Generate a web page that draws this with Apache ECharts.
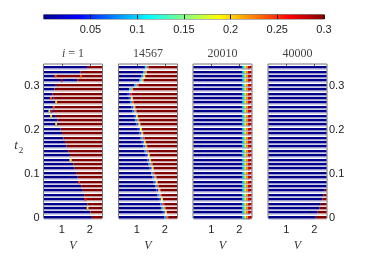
<!DOCTYPE html>
<html><head><meta charset="utf-8">
<script src="https://cdn.jsdelivr.net/npm/echarts@6/dist/echarts.min.js"></script>
<style>html,body{margin:0;padding:0;background:#fff}#c{width:374px;height:257px}</style>
</head><body><div id="c"></div>
<script>
// ---- data ----
const tRows = [0.00,0.01,0.02,0.03,0.04,0.05,0.06,0.07,0.08,0.09,0.10,0.11,0.12,0.13,0.14,0.15,0.16,0.17,0.18,0.19,0.20,0.21,0.22,0.23,0.24,0.25,0.26,0.27,0.28,0.29,0.30,0.31,0.32,0.33,0.34];
const panelTitles = ['i = 1','14567','20010','40000'];
const vTicks = [1, 2];
const tTicks = [0, 0.1, 0.2, 0.3];
const cbTicks = [0.05, 0.1, 0.15, 0.2, 0.25, 0.3];
const vRange = [0.35, 2.45];
const tRange = [0, 0.35];
const lowVal = 0.0, highVal = 0.3;

// panel 1 (i = 1): V where the red region starts, per row
const edges1 = [2.07,2.02,1.97,1.92,1.86,1.80,1.75,1.69,1.63,1.57,1.51,1.46,1.41,1.35,1.29,1.23,1.17,1.12,1.06,1.01,0.96,0.90,0.85,0.79,0.72,0.73,0.82,0.70,0.67,0.74,0.79,1.56,0.80,1.67,1.90];
// isolated coloured cells [t2, V, value]
const spots1 = [[0.02,1.92,0.2],[0.04,1.84,0.26],[0.08,1.62,0.25],[0.13,1.31,0.19],[0.21,0.80,0.2],[0.23,0.62,0.2],[0.24,0.56,0.16],[0.24,0.64,0.27],[0.25,0.71,0.24],[0.26,0.80,0.2],[0.27,0.62,0.24],[0.31,1.00,0.29],[0.32,0.78,0.24],[0.32,1.68,0.24]];

// panel 2 (14567)
const edges2 = [2.12,2.07,2.02,1.98,1.93,1.88,1.84,1.79,1.74,1.70,1.65,1.60,1.56,1.51,1.46,1.42,1.37,1.32,1.28,1.23,1.18,1.13,1.09,1.04,0.99,0.95,0.90,0.86,0.82,0.87,1.06,1.24,1.30,1.36,1.43];
const front2a = [0.08,0.06,0.09,0.07,0.06,0.08,0.05,0.08,0.06,0.07,0.09,0.06,0.08,0.06,0.05,0.08,0.07,0.06,0.08,0.06,0.05,0.06,0.08,0.06,0.07,0.06,0.08,0.06,0.05,0.10,0.09,0.10,0.08,0.09,0.10];
const front2b = [0.24,0.20,0.22,0.25,0.19,0.23,0.21,0.24,0.20,0.22,0.25,0.20,0.23,0.21,0.19,0.24,0.22,0.20,0.25,0.21,0.19,0.20,0.23,0.20,0.22,0.21,0.24,0.20,0.26,0.22,0.24,0.21,0.20,0.22,0.24];

// panel 3 (20010): dark red start per row, and the ramp cells [V, value] seen on every row
const edges3 = [2.38,2.38,2.38,2.38,2.38,2.38,2.38,2.38,2.38,2.38,2.38,2.38,2.38,2.38,2.38,2.38,2.38,2.38,2.38,2.38,2.38,2.38,2.38,2.38,2.38,2.38,2.38,2.38,2.38,2.38,2.38,2.38,2.38,2.38,2.38];
const ramp3 = [[2.10,0.10],[2.17,0.17],[2.24,0.22],[2.31,0.27]];

// panel 4 (40000)
const edges4 = [2.05,2.12,2.18,2.23,2.28,2.32,2.37,2.42,null,null,null,null,null,null,null,null,null,null,null,null,null,null,null,null,null,null,null,null,null,null,null,null,null,null,null];

// ---- build cell segments [v0, v1, t2, value] ----
const CW = 0.07;
function rows(edges, fa, fb) {
  const out = [];
  tRows.forEach((t, i) => {
    const e = edges[i];
    if (e == null) { out.push([vRange[0], vRange[1], t, lowVal]); return; }
    let b = e;
    if (fb) { out.push([b - CW, b, t, fb[i]]); b -= CW; }
    if (fa) { out.push([b - CW, b, t, fa[i]]); b -= CW; }
    out.unshift([vRange[0], b, t, lowVal]);
    out.push([e, vRange[1], t, highVal]);
  });
  return out;
}
const data1 = rows(edges1).concat(spots1.map(s => [s[1] - CW / 2, s[1] + CW / 2, s[0], s[2]]));
const data2 = rows(edges2, front2a, front2b);
const data3 = rows(edges3);
tRows.forEach(t => ramp3.forEach(r => data3.push([r[0], r[0] + CW, t, r[1]])));
const data4 = rows(edges4);
const panelData = [data1, data2, data3, data4];

const jet = ['#00008a','#0000ff','#0080ff','#00ffff','#80ff80','#ffff00','#ff8000','#ff0000','#800000'];

function renderCell(params, api) {
  const cs = params.coordSys;
  const t = api.value(2);
  const a = api.coord([api.value(0), t]);
  const b = api.coord([api.value(1), t]);
  const h = api.size([0, 0.01])[1];
  const x0 = Math.max(a[0], cs.x + 0.5), x1 = Math.min(b[0], cs.x + cs.width - 0.5);
  if (x1 <= x0) return null;
  const c = api.visual('color');
  const yTop = Math.round(a[1] - h * 0.5);
  return { type: 'group', children: [
    { type: 'rect', shape: { x: x0, y: yTop, width: x1 - x0, height: 2 }, style: { fill: c } },
    { type: 'rect', shape: { x: x0, y: yTop + 2, width: x1 - x0, height: 1.4 }, style: { fill: c, opacity: 0.4 } }
  ]};
}

const fontSans = 'Liberation Sans';
const fontSerif = 'Liberation Serif';
const grids = [], xAxes = [], yAxes = [], series = [], graphics = [];
const lefts = [43.5, 118.5, 193, 268];
for (let k = 0; k < 4; k++) {
  grids.push({ left: lefts[k], top: 64, width: 59, height: 154, show: true, borderColor: '#777', borderWidth: 1, backgroundColor: 'transparent' });
  xAxes.push({ type: 'value', gridIndex: k, position: 'bottom', min: vRange[0], max: vRange[1],
    axisLine: { show: false }, axisTick: { show: false }, splitLine: { show: false },
    axisLabel: { customValues: vTicks, margin: 6, color: '#222', fontSize: 11, fontFamily: fontSans },
    name: 'V', nameLocation: 'middle', nameGap: 16,
    nameTextStyle: { fontFamily: fontSerif, fontStyle: 'italic', fontSize: 12, color: '#333' } });
  xAxes.push({ type: 'value', gridIndex: k, position: 'top', min: vRange[0], max: vRange[1],
    axisLine: { show: false }, splitLine: { show: false }, axisLabel: { show: false },
    axisTick: { show: true, inside: true, length: 3, customValues: vTicks, lineStyle: { color: '#555' } } });
  yAxes.push({ type: 'value', gridIndex: k, position: k === 3 ? 'right' : 'left', min: tRange[0], max: tRange[1],
    axisLine: { show: false }, axisTick: { show: false }, splitLine: { show: false },
    axisLabel: { show: k === 0 || k === 3, customValues: tTicks, margin: k === 3 ? 2 : 4, color: '#222', fontSize: 11, fontFamily: fontSans } });
  series.push({ type: 'custom', xAxisIndex: 2 * k, yAxisIndex: k, clip: false, renderItem: renderCell,
    encode: { x: [0, 1], y: 2 }, data: panelData[k], z: 2 });
  graphics.push({ type: 'text', x: lefts[k] + 29.5, y: 54,
    style: { text: k === 0 ? '{i|i} = 1' : panelTitles[k], rich: { i: { fontStyle: 'italic', fontFamily: fontSerif, fontSize: 12, fill: '#444' } },
      font: '12px "Liberation Serif"', fill: '#444', align: 'center', verticalAlign: 'middle' } });
}
// colorbar
grids.push({ left: 43.7, top: 14.7, width: 280.3, height: 4.3, show: true, borderColor: '#666', borderWidth: 1 });
xAxes.push({ type: 'value', gridIndex: 4, min: 0, max: 0.3, z: 5,
  axisLine: { show: false }, splitLine: { show: false },
  axisTick: { show: true, inside: true, length: 4.3, customValues: cbTicks, lineStyle: { color: '#111' } },
  axisLabel: { customValues: cbTicks, margin: 5, color: '#222', fontSize: 11, fontFamily: fontSans } });
yAxes.push({ type: 'value', gridIndex: 4, min: 0, max: 1, show: false });
series.push({ type: 'custom', xAxisIndex: 8, yAxisIndex: 4, z: 0, clip: false,
  data: [[0, 0.3]], encode: { x: [0, 1] },
  renderItem: (params, api) => {
    const cs = params.coordSys;
    const a = api.coord([api.value(0), 0]), b = api.coord([api.value(1), 0]);
    const stops = jet.map((c, i) => ({ offset: i / (jet.length - 1), color: c }));
    return { type: 'rect', shape: { x: a[0], y: cs.y, width: b[0] - a[0], height: cs.height },
      style: { fill: new echarts.graphic.LinearGradient(0, 0, 1, 0, stops) } };
  } });
graphics.push({ type: 'text', x: 16, y: 146, style: { text: 't', font: 'italic 13px "Liberation Serif"', fill: '#333', align: 'center', verticalAlign: 'middle' } });
graphics.push({ type: 'text', x: 21, y: 151, style: { text: '2', font: '9px "Liberation Serif"', fill: '#333', align: 'center', verticalAlign: 'middle' } });

const chart = echarts.init(document.getElementById('c'), null, { renderer: 'canvas' });
chart.setOption({
  animation: false,
  backgroundColor: '#fff',
  grid: grids, xAxis: xAxes, yAxis: yAxes, series: series, graphic: graphics,
  visualMap: { type: 'continuous', show: false, min: 0, max: 0.3, dimension: 3, seriesIndex: [0, 1, 2, 3], inRange: { color: jet } }
});
</script></body></html>
